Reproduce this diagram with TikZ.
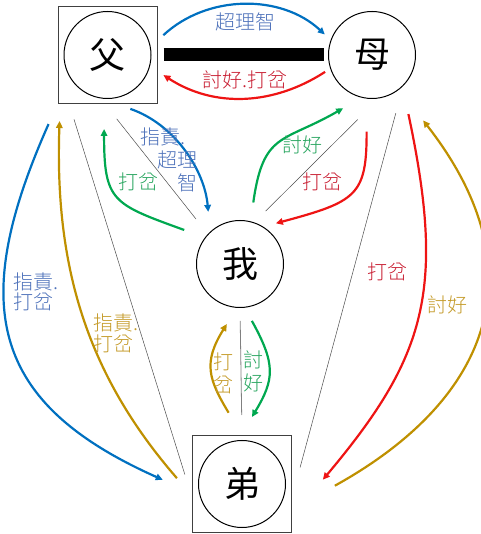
\documentclass[tikz,border=0pt]{standalone}
\usepackage{fontspec}
\newfontfamily\cjk{Noto Sans CJK TC}
\newfontfamily\cjklight{Noto Sans CJK TC Light}
\usetikzlibrary{arrows.meta}
\definecolor{lineblue}{RGB}{0,112,192}
\definecolor{textblue}{RGB}{78,114,186}
\definecolor{linered}{RGB}{238,20,20}
\definecolor{textred}{RGB}{200,30,50}
\definecolor{linegreen}{RGB}{0,168,80}
\definecolor{textgreen}{RGB}{40,165,95}
\definecolor{linegold}{RGB}{191,144,0}
\definecolor{textgold}{RGB}{196,154,40}
\tikzset{
  % For family members.
  person/.style={
    draw,
    circle,
    line width=1pt,
    minimum size=87pt,
    inner sep=0pt,
    font=\cjk\fontsize{36}{36}\selectfont},
%
  % For the frame round father and brother.
  person box/.style={
    draw=black!75,
    line width=1pt,
    minimum width=99pt,
    minimum height=97pt,
    inner sep=0pt},
%
  % For the thick bar between the parents.
  bar/.style={
    line width=13pt},
%
  % For thin dividing lines.
  divider/.style={
    draw=black!70,
    line width=0.5pt},
%
  % For coloured connectors.
  link/.style={
    line width=2.2pt,
    -{Triangle[length=7pt,width=6.5pt]}},
  blue link/.style={link, draw=lineblue},
  red link/.style={link, draw=linered},
  green link/.style={link, draw=linegreen},
  gold link/.style={link, draw=linegold},
%
  % For texts on connectors.
  note/.style={
    inner sep=0pt,
    font=\cjklight\fontsize{20}{23}\selectfont},
}
\begin{document}
\begin{tikzpicture}[x=1pt,y=1pt]
  \useasboundingbox (0,0) rectangle (480,534);

  \node[person box] (fatherbox) at (107.5,479) {};
  \node[person] (father) at (107.5,479) {父};
  \node[person] (mother) at (372,479) {母};
  \node[person] (self) at (240,270) {我};
  \node[person box] (brotherbox) at (242,50) {};
  \node[person] (brother) at (242,50) {弟};

  \draw[bar, shorten <=6pt, shorten >=4pt] (fatherbox) -- (mother);

  \draw[divider, shorten <=16pt, shorten >=24pt] (fatherbox.-128) -- (brotherbox.195);
  \draw[divider, shorten <=19pt, shorten >=19pt] (fatherbox.-93) -- (self.137);
  \draw[divider, shorten <=30pt, shorten >=16pt] (mother.-81) -- (self.71);
  \draw[divider, shorten <=28pt, shorten >=31pt] (mother.-45) -- (brotherbox.-15);
  \draw[divider, draw=gray, line width=0.8pt, shorten <=13pt, shorten >=20pt]
    (self.south) -- (brotherbox.north);

  % Between the parents.
  \draw[blue link, shorten <=8pt, shorten >=8pt]
    (fatherbox.16) to[out=43, in=137] (mother.160);
  \draw[red link, shorten <=6pt, shorten >=7pt]
    (mother.198) to[out=213, in=-33] (fatherbox.-18);

  % Father and me.
  \draw[blue link, shorten <=15pt, shorten >=20pt]
    (fatherbox.-80) to[out=-19, in=95] (self.133);
  \draw[green link, shorten <=22pt, shorten >=25pt]
    (self.143) to[out=160, in=-90, looseness=1.5] (fatherbox.-94);

  % Mother and me.
  \draw[green link, shorten <=19pt, shorten >=21pt]
    (self.76) to[out=82, in=-150, looseness=1.4] (mother.-104);
  \draw[red link, shorten <=33pt, shorten >=13pt]
    (mother.-97) to[out=-90, in=15, looseness=1.5] (self.58);

  % Me and the brother.
  \draw[gold link, shorten <=26pt, shorten >=19pt]
    (brotherbox.90) to[out=121, in=-122, looseness=1.3] (self.-94);
  \draw[green link, shorten <=15pt, shorten >=21pt]
    (self.-84) to[out=-61, in=59, looseness=1.3] (brotherbox.91);

  % Parents and the brother.
  \draw[blue link, shorten <=22pt, shorten >=32pt]
    (fatherbox.south west) to[out=246, in=156, looseness=1.37] (brotherbox.190);
  \draw[gold link, shorten <=23pt, shorten >=17pt]
    (brotherbox.193) to[out=131, in=-92] (fatherbox.-134);
  \draw[red link, shorten <=28pt, shorten >=48pt]
    (mother.-46) to[out=-78, in=50, looseness=1.2] (brotherbox.-33);
  \draw[gold link, shorten <=49pt, shorten >=39pt]
    (brotherbox.-27) to[out=29, in=-52, looseness=1.35] (mother.-52);

  \node[note, text=textblue] (parents-blue) at (245,512) {超理智};
  \node[note, text=textred] (parents-red) at (245,454) {討好.打岔};
  \node[note, text=textblue, align=left] (father-self-blue) at (168.5,374)
    {指責.\\\hspace*{0.85em}超理\\\hspace*{1.85em}智};
  \node[note, text=textgreen] (self-father-green) at (138,352) {打岔};
  \node[note, text=textgreen] (self-mother-green) at (302,389) {討好};
  \node[note, text=textred] (mother-self-red) at (322,352) {打岔};
  \node[note, text=textblue, align=left, anchor=west,
    font=\cjklight\fontsize{20}{20.5}\selectfont] (father-brother-blue) at (13,242) {指責.\\打岔};
  \node[note, text=textgold, align=left, anchor=west,
    font=\cjklight\fontsize{20}{21}\selectfont] (brother-father-gold) at (93,201) {指責.\\打岔};
  \node[note, text=textgold, align=center] (brother-self-gold) at (223,160.5) {打\\岔};
  \node[note, text=textgreen, align=center] (self-brother-green) at (253,162.5) {討\\好};
  \node[note, text=textred] (mother-brother-red) at (387,262) {打岔};
  \node[note, text=textgold] (brother-mother-gold) at (447,229) {討好};
\end{tikzpicture}
\end{document}
